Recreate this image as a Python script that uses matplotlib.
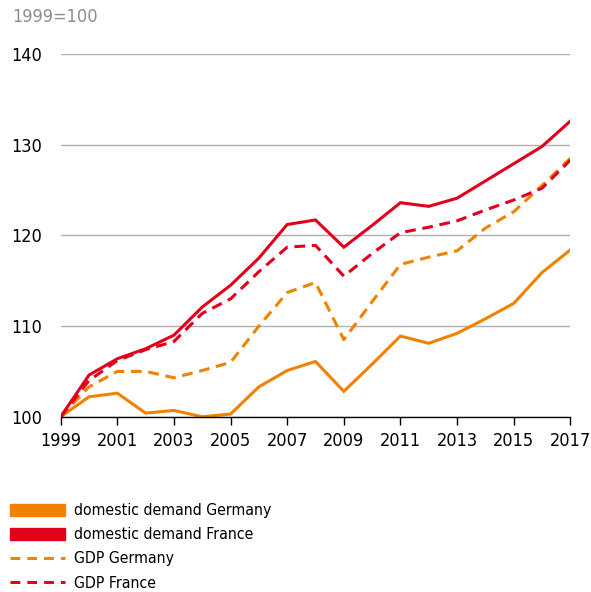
import matplotlib
matplotlib.use("Agg")
import matplotlib.pyplot as plt
from matplotlib.lines import Line2D
from matplotlib.patches import Patch

plt.rcParams['font.family'] = ['DejaVu Sans']
plt.rcParams['font.stretch'] = 'condensed'

# index values, 1999=100
years = list(range(1999, 2018))
dd_germany = [100, 102.2, 102.6, 100.4, 100.7, 100.0, 100.3, 103.3, 105.1, 106.1,
              102.8, 105.8, 108.9, 108.1, 109.2, 110.8, 112.5, 115.9, 118.4]
dd_france = [100, 104.6, 106.4, 107.5, 109.0, 112.1, 114.5, 117.5, 121.2, 121.7,
             118.7, 121.1, 123.6, 123.2, 124.1, 126.0, 127.9, 129.8, 132.6]
gdp_germany = [100, 103.3, 105.0, 105.0, 104.3, 105.1, 106.0, 110.0, 113.7, 114.8,
               108.5, 112.7, 116.8, 117.6, 118.3, 120.8, 122.6, 125.5, 128.5]
gdp_france = [100, 104.0, 106.2, 107.4, 108.3, 111.4, 113.0, 116.0, 118.7, 118.9,
              115.5, 118.0, 120.3, 120.9, 121.6, 122.8, 123.9, 125.2, 128.3]

labels = ["domestic demand Germany", "domestic demand France", "GDP Germany", "GDP France"]
xticks = list(range(1999, 2018, 2))
yticks = [100, 110, 120, 130, 140]

orange = "#F08200"
red = "#E2001A"

fig = plt.figure(figsize=(5.91, 5.92), dpi=100)
ax = fig.add_axes([0.1027, 0.296, 0.8623, 0.6128])

ax.plot(years, dd_germany, color=orange, lw=2.2, solid_joinstyle='miter')
ax.plot(years, gdp_germany, color=orange, lw=2.2, ls=(0, (3.5, 2.2)))
ax.plot(years, gdp_france, color=red, lw=2.2, ls=(0, (3.5, 2.2)))
ax.plot(years, dd_france, color=red, lw=2.2, solid_joinstyle='miter')

ax.set_xlim(1999, 2017)
ax.set_ylim(100, 140)
ax.set_xticks(xticks)
ax.set_yticks(yticks)
ax.tick_params(axis='x', length=6, width=1, color='black', labelsize=13, pad=5)
ax.tick_params(axis='y', length=0, labelsize=13, pad=13.5)
ax.grid(axis='y', color='#b0b0b0', lw=1)
ax.set_axisbelow(True)
for s in ['left', 'right', 'top']:
    ax.spines[s].set_visible(False)
ax.spines['bottom'].set_linewidth(1)

fig.text(0.02, 0.971, "1999=100", color='#8c8c8c', fontsize=13, va='center', ha='left')

handles = [Patch(color=orange), Patch(color=red),
           Line2D([], [], color=orange, lw=2.2, ls=(0, (3.2, 2.3))),
           Line2D([], [], color=red, lw=2.2, ls=(0, (3.2, 2.3)))]
fig.legend(handles, labels, loc='upper left', bbox_to_anchor=(0.017, 0.15),
           frameon=False, fontsize=11.3, handlelength=3.5, handleheight=0.8,
           handletextpad=0.6, labelspacing=0.58, borderaxespad=0, borderpad=0)

fig.savefig("out.png", dpi=100)
